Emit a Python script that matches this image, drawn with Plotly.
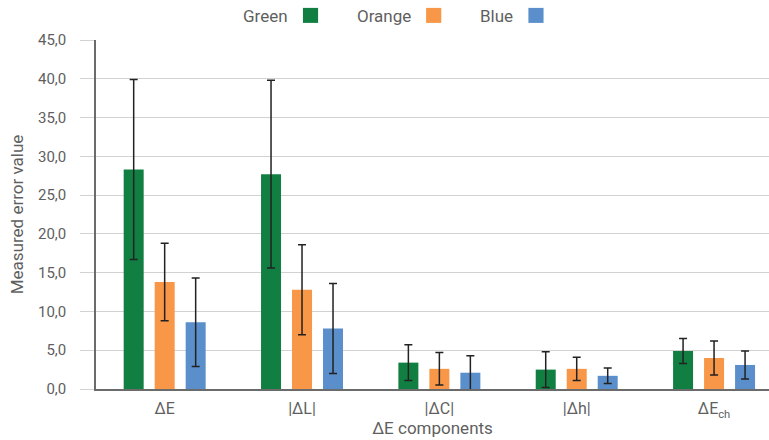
import plotly.graph_objects as go

categories = ["ΔE", "|ΔL|", "|ΔC|", "|Δh|", "ΔE<sub>ch</sub>"]

green = [28.3, 27.7, 3.4, 2.5, 4.9]
green_err = [11.6, 12.1, 2.3, 2.3, 1.6]
orange = [13.8, 12.8, 2.6, 2.6, 4.0]
orange_err = [5.0, 5.8, 2.1, 1.5, 2.2]
blue = [8.6, 7.8, 2.1, 1.7, 3.1]
blue_err = [5.7, 5.8, 2.2, 1.0, 1.8]

series = [
    ("Green", green, green_err, "#117f41"),
    ("Orange", orange, orange_err, "#f89747"),
    ("Blue", blue, blue_err, "#5b8fcb"),
]

fig = go.Figure()
for nome, valores, erros, cor in series:
    fig.add_trace(
        go.Bar(
            name=nome,
            x=categories,
            y=valores,
            marker_color=cor,
            marker_line_width=0,
            error_y=dict(type="data", array=erros, color="#222222", thickness=1.5, width=4),
        )
    )

# legend drawn by hand: text first, colour square on the right
legenda_x = [0.288, 0.471, 0.623]
for (nome, _, _, cor), lx in zip(series, legenda_x):
    fig.add_annotation(
        x=lx, y=1.070, xref="paper", yref="paper", text=nome,
        showarrow=False, xanchor="right", yanchor="middle",
        font=dict(size=17, color="#5f5f5f"),
    )
    fig.add_shape(
        type="rect", xref="paper", yref="paper",
        x0=lx + 0.0195, x1=lx + 0.042, y0=1.049, y1=1.092,
        fillcolor=cor, line_width=0,
    )

fig.update_layout(
    template="plotly_white",
    width=769,
    height=440,
    margin=dict(l=96, r=0, t=40, b=51, autoexpand=False),
    font=dict(family="Roboto", color="#5f5f5f"),
    separators=",.",
    showlegend=False,
    barmode="group",
    bargap=0.323,
    bargroupgap=0.355,
    plot_bgcolor="white",
    paper_bgcolor="white",
)

fig.update_xaxes(
    title=dict(text="ΔE components", font=dict(size=17, color="#5f5f5f"), standoff=2),
    tickfont=dict(size=16, color="#5f5f5f"),
    range=[-0.5, 4.4],
    showline=True,
    linecolor="#6b6b6b",
    linewidth=2,
    showgrid=False,
    ticks="",
    ticklabelstandoff=4,
    automargin=False,
)

fig.update_yaxes(
    title=dict(text="Measured error value", font=dict(size=17, color="#5f5f5f"), standoff=10),
    range=[0, 45],
    dtick=5,
    tickformat=".1f",
    tickfont=dict(size=15, color="#5f5f5f"),
    showline=True,
    linecolor="#6b6b6b",
    linewidth=1.5,
    gridcolor="#d2d2d2",
    gridwidth=1.2,
    ticks="outside",
    ticklen=14,
    tickcolor="#d2d2d2",
    ticklabelstandoff=11,
    zeroline=False,
    automargin=False,
)

fig.write_html(
    "out.html",
    config={"displayModeBar": False},
    post_script="document.body.style.margin='0';",
)
